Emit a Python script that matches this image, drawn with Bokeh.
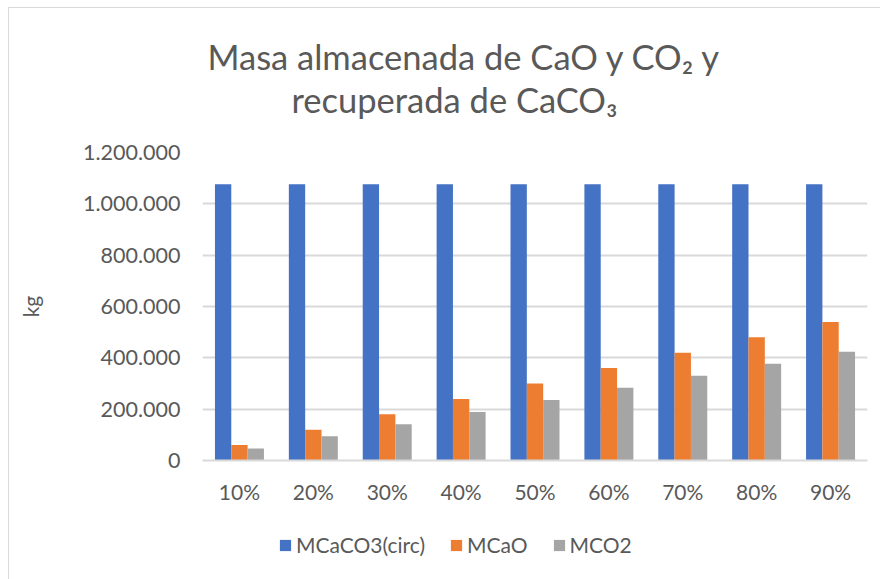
from bokeh.plotting import figure
from bokeh.layouts import column
from bokeh.models import FactorRange, Range1d, Legend, LegendItem, Title, ColumnDataSource
from bokeh.transform import dodge
from bokeh.embed import file_html
from bokeh.resources import INLINE

categories = ["10%", "20%", "30%", "40%", "50%", "60%", "70%", "80%", "90%"]
m_caco3 = [1076000, 1076000, 1076000, 1076000, 1076000, 1076000, 1076000, 1076000, 1076000]
m_cao = [60000, 120000, 180000, 240000, 300000, 360000, 420000, 480000, 540000]
m_co2 = [47000, 94000, 141000, 189000, 236000, 283000, 330000, 377000, 424000]
series_names = ["MCaCO3(circ)", "MCaO", "MCO2"]
y_ticks = [0, 200000, 400000, 600000, 800000, 1000000, 1200000]
y_tick_labels = ["0", "200.000", "400.000", "600.000", "800.000", "1.000.000", "1.200.000"]
title_lines = ["Masa almacenada de CaO y CO₂ y", "recuperada de CaCO₃"]

FONT = "Lato"
TXT = "#595959"
GRID = "#D9D9D9"
colors = ["#4472C4", "#ED7D31", "#A5A5A5"]

src = ColumnDataSource(dict(cat=categories, a=m_caco3, b=m_cao, c=m_co2))

p = figure(x_range=FactorRange(*categories, range_padding=0), y_range=Range1d(0, 1200000),
           frame_width=664, frame_height=307,
           min_border_left=193, min_border_right=14, min_border_top=144, min_border_bottom=45,
           margin=(7, 0, 0, 8),
           styles={"border-left": "1px solid #D9D9D9", "border-top": "1px solid #D9D9D9"},
           output_backend="svg", toolbar_location=None, tools="")
p.background_fill_color = "white"
p.border_fill_color = "white"
p.outline_line_color = None

bw = 0.221
cols = ["a", "b", "c"]
offsets = [-bw, 0, bw]
for col, off, colr in zip(cols, offsets, colors):
    p.vbar(x=dodge("cat", off, range=p.x_range), top=col, width=bw, source=src,
           fill_color=colr, line_color=None)

# titles: stacked from the plot outwards (spacer, line 2, line 1)
spacer = Title(text=" ", text_font_size="1px", standoff=30)
t2 = Title(text=title_lines[1], align="left", offset=89,
           text_font=FONT, text_font_size="34.5px",
           text_font_style="normal", text_color=TXT, standoff=0)
t1 = Title(text=title_lines[0], align="left", offset=5,
           text_font=FONT, text_font_size="34.5px",
           text_font_style="normal", text_color=TXT, standoff=0)
p.add_layout(spacer, "above")
p.add_layout(t2, "above")
p.add_layout(t1, "above")

# axes
p.yaxis.ticker = y_ticks
p.yaxis.major_label_overrides = {t: l for t, l in zip(y_ticks, y_tick_labels)}
p.yaxis.axis_line_color = None
p.yaxis.major_tick_line_color = None
p.yaxis.major_tick_out = 0
p.yaxis.major_tick_in = 0
p.yaxis.minor_tick_line_color = None
p.yaxis.major_label_text_font = FONT
p.yaxis.major_label_text_font_size = "21.5px"
p.yaxis.major_label_text_color = TXT
p.yaxis.major_label_standoff = 22
p.yaxis.axis_label = "kg"
p.yaxis.axis_label_text_font = FONT
p.yaxis.axis_label_text_font_size = "21px"
p.yaxis.axis_label_text_font_style = "normal"
p.yaxis.axis_label_text_color = TXT
p.yaxis.axis_label_standoff = 37

p.xaxis.axis_line_color = GRID
p.xaxis.axis_line_width = 2
p.xaxis.major_tick_line_color = None
p.xaxis.major_tick_out = 0
p.xaxis.major_tick_in = 0
p.xaxis.minor_tick_line_color = None
p.xaxis.major_label_text_font = FONT
p.xaxis.major_label_text_font_size = "21px"
p.xaxis.major_label_text_color = TXT
p.xaxis.major_label_standoff = 18

p.xgrid.grid_line_color = None
p.ygrid.grid_line_color = GRID
p.ygrid.grid_line_width = 2

# legend strip below the chart (zero-width proxy bars, outside its visible range)
lg = figure(x_range=FactorRange(*categories), y_range=Range1d(2000000, 3000000),
            width=872, height=74, min_border=0, min_border_left=0, min_border_right=0,
            min_border_top=0, min_border_bottom=0, margin=(0, 0, 0, 8),
            styles={"border-left": "1px solid #D9D9D9"},
            x_axis_location=None, y_axis_location=None,
            output_backend="svg", toolbar_location=None, tools="")
lg.outline_line_color = None
lg.background_fill_color = "white"
lg.border_fill_color = "white"
lg.grid.visible = False
proxies = [lg.vbar(x="cat", top=col, width=0, source=src, fill_color=colr, line_color=None)
           for col, colr in zip(cols, colors)]
legend = Legend(items=[LegendItem(label=n, renderers=[r]) for n, r in zip(series_names, proxies)],
                orientation="horizontal", location=(76, 22),
                label_text_font=FONT, label_text_font_size="21px", label_text_color=TXT,
                glyph_width=14, glyph_height=14, label_standoff=4, spacing=24,
                border_line_color=None, background_fill_alpha=0, margin=0, padding=0)
lg.add_layout(legend, "center")

layout = column(p, lg, spacing=0)
open("out.html", "w").write(file_html(layout, INLINE))
